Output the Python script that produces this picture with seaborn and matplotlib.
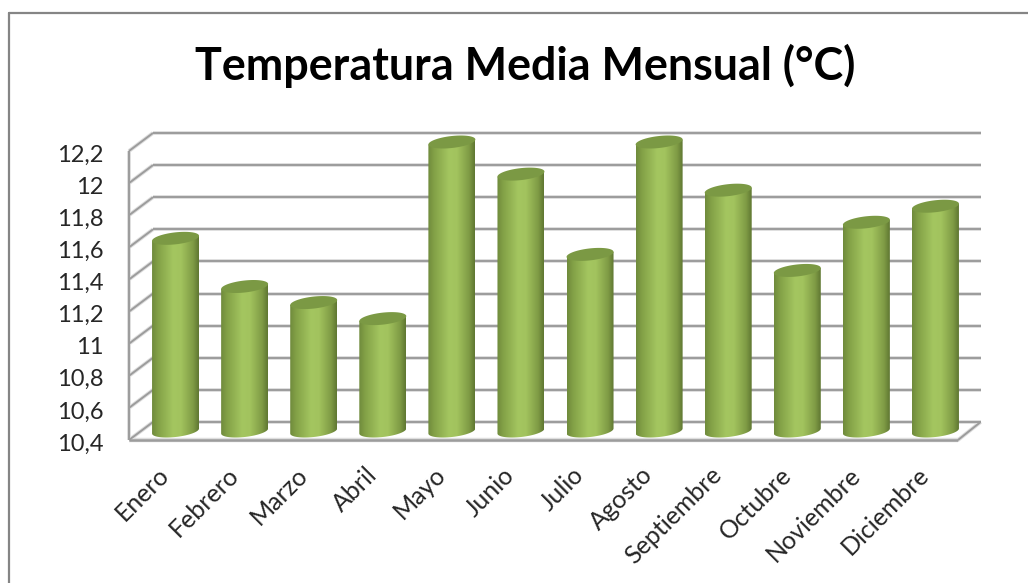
import numpy as np
import pandas as pd
import seaborn as sns
import matplotlib
matplotlib.use("Agg")
import matplotlib.pyplot as plt
from matplotlib.lines import Line2D
from matplotlib.patches import Polygon
from matplotlib.transforms import ScaledTranslation
from matplotlib.colors import LinearSegmentedColormap

# DATA
meses = ['Enero', 'Febrero', 'Marzo', 'Abril', 'Mayo', 'Junio', 'Julio', 'Agosto',
         'Septiembre', 'Octubre', 'Noviembre', 'Diciembre']
temperatura = [11.6, 11.3, 11.2, 11.1, 12.2, 12.0, 11.5, 12.2, 11.9, 11.4, 11.7, 11.8]
y_ticks = [10.4, 10.6, 10.8, 11.0, 11.2, 11.4, 11.6, 11.8, 12.0, 12.2]
y_labels = ['10,4', '10,6', '10,8', '11', '11,2', '11,4', '11,6', '11,8', '12', '12,2']

df = pd.DataFrame({'Mes': meses, 'Temp': temperatura})

sns.set_theme(style='white')
plt.rcParams['font.family'] = ['Lato', 'DejaVu Sans']

W, H = 1028, 583
fig = plt.figure(figsize=(W / 100, H / 100), dpi=100)
# axes sit on the middle plane of the fake 3D box
ax = fig.add_axes([141 / W, 1 - 431 / H, 829 / W, 289 / H])

sns.barplot(data=df, x='Mes', y='Temp', color='#8fae50', saturation=1, width=0.68, ax=ax)
ax.set_xlim(-0.5, 11.5)
ax.set_ylim(10.4, 12.2)
ax.set_xlabel('')
ax.set_ylabel('')
sns.despine(ax=ax, left=True, bottom=True)

# depth of the box in data units (half, from middle plane)
dx = 12 / (829 / 12)
dy = 9 / (289 / 1.8)
grid_c = '#9c9c9c'


def box_line(xs, ys, lw=1.4):
    # soft shadow under every line, like the Excel 3D walls
    ax.plot(xs, ys, color='#dedede', lw=lw + 1.4, clip_on=False, zorder=0.4, solid_capstyle='butt')
    ax.plot(xs, ys, color=grid_c, lw=lw, clip_on=False, zorder=0.5, solid_capstyle='butt')


# walls and floor
for t in y_ticks:
    box_line([-0.5 + dx, 11.5 + dx - 0.02], [t + dy, t + dy])
    box_line([-0.5 - dx, -0.5 + dx], [t - dy, t + dy])
box_line([-0.5 - dx, -0.5 - dx], [10.4 - dy, 12.2 - dy])
box_line([-0.5 - dx, 11.5 - dx], [10.4 - dy, 10.4 - dy], lw=1.8)
box_line([11.5 - dx, 11.5 + dx - 0.02], [10.4 - dy, 10.4 + dy])

# cylinders: shade the seaborn bars
cyl = LinearSegmentedColormap.from_list('cyl', [(0, '#6f8a3c'), (0.12, '#82a046'), (0.45, '#a4c660'),
                                                (0.62, '#a2c35e'), (0.88, '#7f9b45'), (1, '#5f7732')])
grad = np.linspace(0, 1, 128).reshape(1, -1)
ell_h = 6 / (289 / 1.8)
tilt = 2.5 / (289 / 1.8)
t = np.linspace(0, 2 * np.pi, 80)
arc = np.linspace(np.pi, 2 * np.pi, 40)
for bar in list(ax.patches):
    x0, w, top = bar.get_x(), bar.get_width(), bar.get_height()
    cx, a = x0 + w / 2, w / 2
    px = np.r_[cx + a * np.cos(arc)[0], cx + a * np.cos(arc), cx + a]
    py = np.r_[top - tilt, 10.4 + ell_h * np.sin(arc) + tilt * np.cos(arc), top + tilt]
    clip = Polygon(np.c_[px, py], closed=True, transform=ax.transData, fc='none', ec='none', clip_on=False)
    ax.add_patch(clip)
    im = ax.imshow(grad, extent=(x0, x0 + w, 10.4 - 2 * ell_h, top + 2 * ell_h), aspect='auto',
                   cmap=cyl, zorder=3, interpolation='bilinear')
    im.set_clip_box(fig.bbox)
    im.set_clip_path(clip)
    bar.set_visible(False)
    ax.fill(cx + a * np.cos(t), top + ell_h * np.sin(t) + tilt * np.cos(t), color='#7b9944', lw=0,
            zorder=4, clip_on=False)
ax.set_xlim(-0.5, 11.5)
ax.set_ylim(10.4, 12.2)

# tick labels
ax.set_yticks(y_ticks)
ax.set_yticklabels(y_labels, fontsize=17, color='#262626')
ax.tick_params(axis='y', length=0, pad=27)
ax.tick_params(axis='x', length=0, pad=23)
off_y = ScaledTranslation(0, -11 / 100, fig.dpi_scale_trans)
for lab in ax.get_yticklabels():
    lab.set_transform(lab.get_transform() + off_y)
ax.set_xticks(range(len(meses)))
ax.set_xticklabels(meses, fontsize=18, color='#262626', rotation=45, ha='right', rotation_mode='anchor')
off_x = ScaledTranslation(-18 / 100, 0, fig.dpi_scale_trans)
for lab in ax.get_xticklabels():
    lab.set_transform(lab.get_transform() + off_x)

fig.text(525 / W, 1 - 66 / H, 'Temperatura Media Mensual (°C)', fontsize=32.3, fontweight='bold',
         color='black', ha='center', va='center')

# chart frame
frame_c = '#858585'
fig.add_artist(Line2D([9 / W, 9 / W], [0, 1 - 13 / H], color=frame_c, lw=1.6))
fig.add_artist(Line2D([9 / W, 1], [1 - 13 / H, 1 - 13 / H], color=frame_c, lw=1.6))

fig.savefig('out.png', dpi=100)
